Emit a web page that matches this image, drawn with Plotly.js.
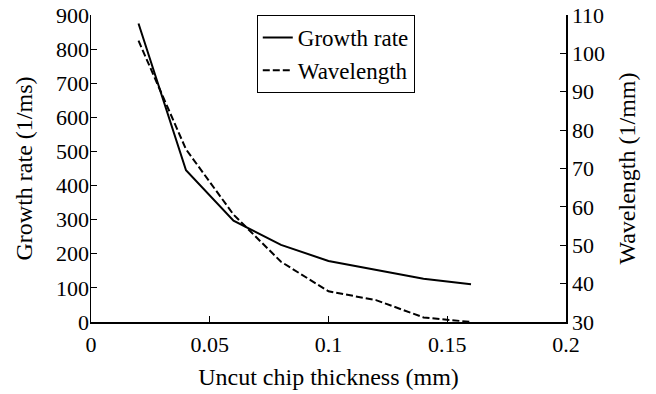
<!DOCTYPE html>
<html><head><meta charset="utf-8">
<script src="https://cdn.plot.ly/plotly-3.0.1.min.js"></script>
<style>html,body{margin:0;padding:0;background:#fff}#chart{width:656px;height:394px}</style>
</head><body><div id="chart"></div>
<script>
const thickness = [0.02, 0.04, 0.06, 0.08, 0.10, 0.12, 0.14, 0.16];
const growthRate = [875, 445, 297, 226, 179, 152, 127, 111];
const wavelength = [103.3, 75, 58, 45.7, 38, 35.7, 31.2, 30];
const xTicks = [0, 0.05, 0.1, 0.15, 0.2];
const xTickText = ['0', '0.05', '0.1', '0.15', '0.2'];

const fam = 'Liberation Serif, Times New Roman, serif';
const tickFont = {family: fam, size: 22, color: '#000'};
const titleFont = {family: fam, size: 24, color: '#000'};
const legendFont = {family: fam, size: 23, color: '#000'};

const traces = [
  {x: thickness, y: growthRate, name: 'Growth rate', type: 'scatter', mode: 'lines',
   line: {color: '#000', width: 2}, yaxis: 'y'},
  {x: thickness, y: wavelength, name: 'Wavelength', type: 'scatter', mode: 'lines',
   line: {color: '#000', width: 2, dash: '7px,3px'}, yaxis: 'y2'}
];

const layout = {
  width: 656, height: 394,
  margin: {l: 91, r: 90, t: 15, b: 72},
  paper_bgcolor: '#fff', plot_bgcolor: '#fff',
  font: titleFont,
  showlegend: true,
  legend: {x: 0.349, y: 1, xanchor: 'left', yanchor: 'top', bgcolor: '#fff',
           bordercolor: '#000', borderwidth: 1, font: legendFont, itemwidth: 30,
           tracegroupgap: 0},
  xaxis: {range: [0, 0.2], tickvals: xTicks, ticktext: xTickText, ticks: 'inside', ticklen: 6,
          tickcolor: '#000', showline: true, linecolor: '#000', linewidth: 1.5, showgrid: false,
          zeroline: false, tickfont: tickFont, ticklabelstandoff: 2,
          title: {text: 'Uncut chip thickness (mm)', font: titleFont, standoff: 12}},
  yaxis: {range: [0, 900], dtick: 100, ticks: 'inside', ticklen: 6, tickcolor: '#000',
          showline: true, linecolor: '#000', linewidth: 1.5, showgrid: false, zeroline: false,
          tickfont: tickFont, ticklabelstandoff: -4,
          title: {text: 'Growth rate (1/ms)', font: titleFont, standoff: 16}},
  yaxis2: {range: [30, 110], dtick: 10, ticks: 'inside', ticklen: 6, tickcolor: '#000',
           overlaying: 'y', side: 'right', showline: true, linecolor: '#000', linewidth: 1.5,
           showgrid: false, zeroline: false, tickfont: tickFont, ticklabelstandoff: 0,
           title: {text: 'Wavelength (1/mm)', font: titleFont, standoff: 14}}
};

Plotly.newPlot('chart', traces, layout, {displayModeBar: false, staticPlot: true});
</script></body></html>
